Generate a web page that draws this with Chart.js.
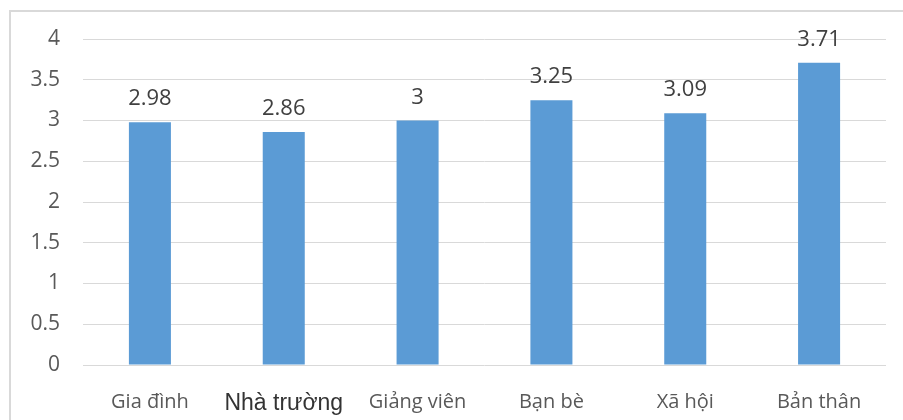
<!DOCTYPE html>
<html>
<head>
<meta charset="utf-8">
<script src="https://cdn.jsdelivr.net/npm/chart.js@4/dist/chart.umd.min.js"></script>
<style>
  body { margin: 0; background: #fff; }
  #wrap { position: relative; width: 903px; height: 420px; overflow: hidden; }
  #frame { position: absolute; left: 9px; top: 10px; width: 1000px; height: 1000px; border: 2px solid #d9d9d9; }
  #chart { position: absolute; left: 0; top: 0; }
</style>
</head>
<body>
<div id="wrap">
  <div id="frame"></div>
  <canvas id="chart" width="903" height="420"></canvas>
</div>
<script>
var categories = ["Gia đình", "Nhà trường", "Giảng viên", "Bạn bè", "Xã hội", "Bản thân"];
var values = [2.98, 2.86, 3, 3.25, 3.09, 3.71];
var yTicks = [0, 0.5, 1, 1.5, 2, 2.5, 3, 3.5, 4];

// draws the value above each bar
var valueLabels = {
  id: "valueLabels",
  afterDatasetsDraw: function(chart) {
    var ctx = chart.ctx;
    var meta = chart.getDatasetMeta(0);
    ctx.save();
    ctx.font = "22px 'Open Sans'";
    ctx.fillStyle = "#404040";
    ctx.textAlign = "center";
    ctx.textBaseline = "bottom";
    meta.data.forEach(function(bar, i) {
      ctx.fillText(String(values[i]), bar.x, bar.y - 12);
    });
    ctx.restore();
  }
};

var ctx = document.getElementById("chart").getContext("2d");
new Chart(ctx, {
  type: "bar",
  data: {
    labels: categories,
    datasets: [{
      data: values,
      backgroundColor: "#5b9bd5",
      categoryPercentage: 1,
      barPercentage: 0.314
    }]
  },
  options: {
    responsive: false,
    animation: false,
    layout: { padding: { left: 0, right: 17, top: 39, bottom: 0 } },
    plugins: {
      legend: { display: false },
      tooltip: { enabled: false }
    },
    scales: {
      x: {
        grid: { display: false },
        border: { display: false },
        ticks: {
          padding: 17,
          color: function(c) { return c.index === 1 ? "#333333" : "#595959"; },
          font: function(c) {
            return c.index === 1 ? { family: "'Liberation Sans'", size: 23 } : { family: "'Open Sans'", size: 20 };
          }
        },
        afterFit: function(s) { s.height = 55; }
      },
      y: {
        min: 0,
        max: 4,
        afterBuildTicks: function(s) { s.ticks = yTicks.map(function(v) { return { value: v }; }); },
        grid: { color: "#d9d9d9", lineWidth: 1, drawTicks: false },
        border: { display: false },
        ticks: {
          padding: 23,
          color: "#595959",
          font: { family: "'Open Sans'", size: 21 },
          callback: function(v) { return String(v); }
        },
        afterFit: function(s) { s.width = 83; }
      }
    }
  },
  plugins: [valueLabels]
});
</script>
</body>
</html>
